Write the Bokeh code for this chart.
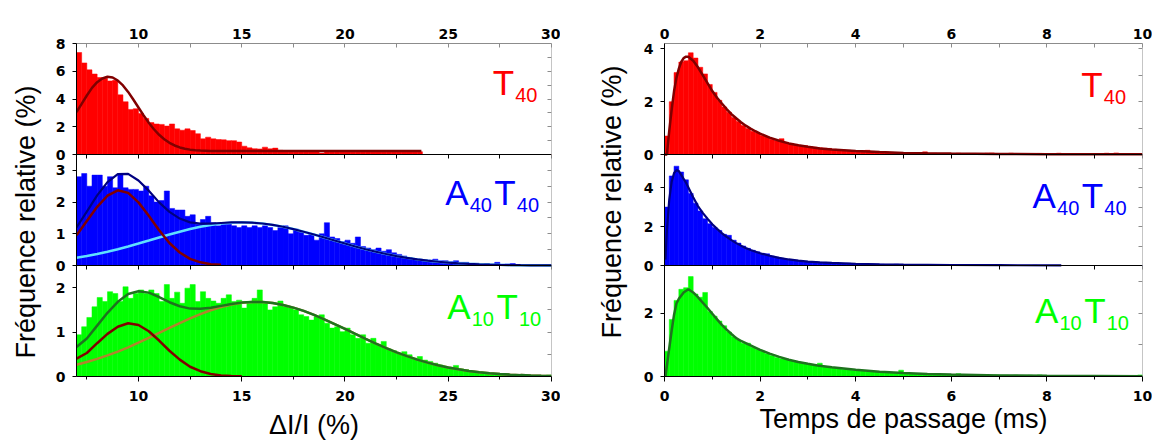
import math
from bokeh.plotting import figure
from bokeh.models import (Range1d, LinearAxis, FixedTicker, CustomJSTickFormatter, Label,
                          Title)
from bokeh.layouts import row
from bokeh.embed import file_html
from bokeh.resources import INLINE

# ======================= DATA =======================
# ---- Left column: ΔI/I (%) histograms, bins of 0.25 % starting at 7 % ----
dii_bin_start = 7.0
dii_bin_width = 0.25
dii_T40 = [
    7.35, 6.6, 6.1, 5.8, 5.55, 5.5, 5.3, 5.35, 4.3, 3.8,
    3.25, 3.3, 2.95, 2.6, 2.3, 2.2, 2.17, 2.05, 2.2, 1.85,
    1.75, 1.85, 1.73, 1.5, 1.13, 1.25, 1.13, 1.08, 1.06, 1.0,
    1.0, 0.9, 0.6, 0.48, 0.42, 0.4, 0.53, 0.41, 0.46, 0.3,
    0.28, 0.25, 0.22, 0.2, 0.2, 0.22, 0.2, 0.1, 0.2, 0.2,
    0.18, 0.2, 0.2, 0.18, 0.2, 0.2, 0.18, 0.2, 0.2, 0.18,
    0.2, 0.2, 0.18, 0.2, 0.2, 0.18, 0.2, 0, 0, 0,
    0, 0, 0, 0, 0, 0, 0, 0, 0, 0,
    0, 0, 0, 0, 0, 0, 0, 0, 0, 0,
    0, 0,
]
dii_A40T40 = [
    2.8, 2.9, 2.5, 2.85, 2.85, 2.5, 2.8, 2.45, 2.9, 2.45,
    2.4, 2.4, 2.35, 2.5, 2.2, 2.0, 2.05, 2.35, 1.8, 1.75,
    1.75, 1.55, 1.6, 1.3, 1.45, 1.55, 1.35, 1.25, 1.3, 1.3,
    1.25, 1.2, 1.25, 1.2, 1.25, 1.2, 1.25, 1.2, 1.1, 1.2,
    1.25, 1.0, 1.15, 1.05, 0.95, 1.0, 0.8, 1.0, 1.35, 0.9,
    0.85, 0.75, 0.8, 0.7, 0.9, 0.6, 0.55, 0.5, 0.55, 0.45,
    0.5, 0.4, 0.35, 0.3, 0.25, 0.22, 0.2, 0.18, 0.17, 0.2,
    0.15, 0.15, 0.12, 0.15, 0.1, 0.1, 0.07, 0.07, 0.05, 0.06,
    0.05, 0.1, 0.04, 0.05, 0.06, 0.03, 0.03, 0.02, 0.03, 0.02,
    0.03, 0.02,
]
dii_A10T10 = [
    0.94, 1.12, 1.33, 1.57, 1.78, 1.69, 1.91, 1.87, 1.69, 2.02,
    1.76, 1.87, 1.95, 1.87, 1.95, 1.87, 1.69, 2.07, 1.76, 1.9,
    1.65, 1.99, 2.07, 1.69, 1.91, 1.76, 1.7, 1.65, 1.76, 1.84,
    1.69, 1.72, 1.54, 1.65, 1.76, 1.95, 1.65, 1.5, 1.57, 1.7,
    1.57, 1.54, 1.5, 1.39, 1.35, 1.27, 1.35, 1.39, 1.2, 1.09,
    1.12, 1.01, 1.09, 0.94, 0.86, 0.94, 0.75, 0.86, 0.71, 0.79,
    0.62, 0.58, 0.52, 0.56, 0.49, 0.41, 0.45, 0.37, 0.34, 0.3,
    0.26, 0.22, 0.2, 0.25, 0.17, 0.15, 0.11, 0.11, 0.07, 0.07,
    0.05, 0.05, 0.04, 0.03, 0.03, 0.02, 0.02, 0.02, 0.02, 0.01,
    0.02, 0.03,
]

# fitted curves (left column)
fitL_T40_x = [7.0, 7.25, 7.5, 7.75, 8.0, 8.25, 8.5, 8.75, 9.0, 9.25, 9.5, 9.75, 10.0,
              10.25, 10.5, 10.75, 11.0, 11.25, 11.5, 11.75, 12.0, 12.25, 12.5, 12.75,
              13.0, 13.5, 14.0, 23.7]
fitL_T40_y = [3.05, 3.65, 4.25, 4.8, 5.21, 5.48, 5.6, 5.55, 5.33, 4.98, 4.51, 3.96, 3.39,
              2.82, 2.29, 1.82, 1.42, 1.1, 0.84, 0.65, 0.51, 0.42, 0.35, 0.31,
              0.28, 0.26, 0.25, 0.25]

half_grid_x = [7.0 + 0.5 * k for k in range(47)]          # 7 ... 30 %
fitL_A40T40_g1_y = [0.95, 1.40, 1.85, 2.20, 2.37, 2.29, 1.99, 1.57, 1.11, 0.71, 0.41,
                    0.21, 0.10, 0.04, 0.02]
fitL_A40T40_g2_y = [0.241, 0.297, 0.362, 0.434, 0.514, 0.600, 0.692, 0.787, 0.883, 0.977,
                    1.066, 1.149, 1.221, 1.280, 1.324, 1.351, 1.36, 1.351, 1.324, 1.280,
                    1.221, 1.149, 1.066, 0.977, 0.883, 0.787, 0.692, 0.600, 0.514, 0.434,
                    0.362, 0.297, 0.241, 0.193, 0.152, 0.119, 0.091, 0.069, 0.052, 0.038,
                    0.028, 0.020, 0.014, 0.010, 0.007, 0.005, 0.003]
fitL_A40T40_tot_y = [1.20, 1.70, 2.21, 2.63, 2.88, 2.89, 2.68, 2.36, 1.99, 1.69, 1.48,
                     1.36, 1.32, 1.32, 1.34, 1.357, 1.36, 1.351, 1.324, 1.280, 1.221,
                     1.149, 1.066, 0.977, 0.883, 0.787, 0.692, 0.600, 0.514, 0.434,
                     0.362, 0.297, 0.241, 0.193, 0.152, 0.119, 0.091, 0.069, 0.052,
                     0.038, 0.028, 0.020, 0.014, 0.010, 0.007, 0.005, 0.003]
fitL_A10T10_g1_y = [0.40, 0.53, 0.75, 0.96, 1.12, 1.20, 1.16, 1.02, 0.81, 0.58, 0.38,
                    0.22, 0.12, 0.057, 0.025, 0.010, 0.004]
fitL_A10T10_g2_y = [0.265, 0.326, 0.396, 0.475, 0.562, 0.658, 0.761, 0.869, 0.980, 1.093,
                    1.203, 1.309, 1.406, 1.493, 1.566, 1.622, 1.660, 1.678, 1.676, 1.654,
                    1.612, 1.552, 1.477, 1.388, 1.288, 1.181, 1.070, 0.958, 0.847, 0.740,
                    0.638, 0.544, 0.458, 0.381, 0.313, 0.254, 0.204, 0.161, 0.126, 0.098,
                    0.075, 0.056, 0.042, 0.031, 0.022, 0.016, 0.011]
fitL_A10T10_tot_y = [0.665, 0.856, 1.146, 1.435, 1.682, 1.858, 1.921, 1.889, 1.79, 1.673,
                     1.583, 1.529, 1.526, 1.55, 1.591, 1.632, 1.664, 1.678, 1.676, 1.654,
                     1.612, 1.552, 1.477, 1.388, 1.288, 1.181, 1.070, 0.958, 0.847, 0.740,
                     0.638, 0.544, 0.458, 0.381, 0.313, 0.254, 0.204, 0.161, 0.126, 0.098,
                     0.075, 0.056, 0.042, 0.031, 0.022, 0.016, 0.011]

# ---- Right column: translocation time (ms) histograms, bins of 0.1 ms from 0 ----
tp_bin_start = 0.0
tp_bin_width = 0.1
tp_T40 = [
    0.7, 2.0, 3.1, 3.5, 3.55, 3.85, 3.65, 3.3, 3.05, 2.65,
    2.35, 2.05, 1.8, 1.6, 1.4, 1.25, 1.1, 0.98, 0.88, 0.82,
    0.72, 0.66, 0.58, 0.52, 0.6, 0.46, 0.42, 0.38, 0.34, 0.33,
    0.3, 0.28, 0.26, 0.24, 0.23, 0.2, 0.19, 0.17, 0.16, 0.14,
    0.13, 0.15, 0.16, 0.12, 0.1, 0.09, 0.09, 0.08, 0.07, 0.07,
    0.06, 0.06, 0.05, 0.07, 0.1, 0.05, 0.05, 0.04, 0.04, 0.04,
    0.04, 0.05, 0.03, 0.04, 0.03, 0.03, 0.04, 0.05, 0.06, 0.03,
    0.0, 0.0, 0.05, 0.0, 0.0, 0.02, 0.0, 0.03, 0.04, 0.0,
    0.0, 0.02, 0.05, 0.0, 0.0, 0.0, 0.02, 0.0, 0.0, 0.03,
    0.0, 0.0, 0.05, 0.0, 0.06, 0.0, 0.0, 0.02, 0.0, 0.0,
]
tp_A40T40 = [
    3.0, 4.6, 5.1, 4.8, 4.4, 3.7, 3.2, 2.8, 2.4, 2.15,
    1.95, 1.8, 1.6, 1.55, 1.3, 1.15, 1.0, 0.88, 0.78, 0.7,
    0.62, 0.6, 0.48, 0.42, 0.37, 0.33, 0.3, 0.27, 0.24, 0.22,
    0.2, 0.19, 0.17, 0.16, 0.14, 0.13, 0.12, 0.11, 0.12, 0.1,
    0.09, 0.09, 0.08, 0.08, 0.07, 0.07, 0.06, 0.06, 0.07, 0.05,
    0.05, 0.05, 0.04, 0.04, 0.04, 0.04, 0.03, 0.03, 0.03, 0.03,
    0.03, 0.03, 0.02, 0.02, 0.02, 0.02, 0.02, 0.02, 0.02, 0.02,
    0.02, 0.01, 0.01, 0.01, 0.01, 0.01, 0.01, 0.02, 0.01, 0.01,
    0.01, 0.01, 0.01, 0.0, 0.0, 0.0, 0.0, 0.0, 0.0, 0.0,
    0.0, 0.0, 0.0, 0.0, 0.0, 0.0, 0.0, 0.0, 0.0, 0.0,
]
tp_A10T10 = [
    0.8, 1.8, 2.4, 2.75, 2.8, 3.15, 2.6, 2.5, 2.65, 2.05,
    1.9, 1.75, 1.6, 1.4, 1.25, 1.15, 1.05, 1.05, 0.92, 0.86,
    0.8, 0.72, 0.66, 0.6, 0.56, 0.55, 0.5, 0.46, 0.43, 0.4,
    0.38, 0.37, 0.42, 0.31, 0.29, 0.27, 0.25, 0.23, 0.21, 0.2,
    0.19, 0.17, 0.16, 0.15, 0.14, 0.13, 0.16, 0.12, 0.11, 0.2,
    0.1, 0.09, 0.09, 0.08, 0.07, 0.08, 0.07, 0.06, 0.07, 0.06,
    0.06, 0.09, 0.05, 0.05, 0.06, 0.05, 0.04, 0.05, 0.04, 0.05,
    0.04, 0.04, 0.03, 0.04, 0.03, 0.03, 0.04, 0.03, 0.05, 0.03,
    0.03, 0.02, 0.03, 0.03, 0.02, 0.02, 0.03, 0.02, 0.02, 0.03,
    0.02, 0.02, 0.02, 0.03, 0.02, 0.02, 0.02, 0.02, 0.03, 0.05,
]
fitR_T40_x = [0.0, 0.05, 0.1, 0.15, 0.2, 0.25, 0.3, 0.35, 0.4, 0.45, 0.5, 0.6, 0.7, 0.8,
              0.9, 1.0, 1.1, 1.2, 1.3, 1.4, 1.5, 1.6, 1.7, 1.8, 1.9, 2.0, 2.2, 2.4, 2.6,
              2.8, 3.0, 3.25, 3.5, 3.75, 4.0, 4.5, 5.0, 5.5, 6.0, 7.0, 8.0, 9.0, 10.0]
fitR_T40_y = [0.0, 0.0, 0.9, 1.7, 2.4, 2.9, 3.25, 3.5, 3.65, 3.7, 3.7, 3.55, 3.3, 3.0,
              2.7, 2.4, 2.15, 1.93, 1.72, 1.53, 1.37, 1.22, 1.09, 0.98, 0.88, 0.79, 0.64,
              0.52, 0.42, 0.35, 0.29, 0.23, 0.19, 0.16, 0.13, 0.09, 0.06, 0.045, 0.035,
              0.02, 0.012, 0.008, 0.005]
fitR_A40T40_x = [0.02, 0.05, 0.1, 0.15, 0.2, 0.25, 0.3, 0.35, 0.4, 0.45, 0.5, 0.6, 0.7,
                 0.8, 0.9, 1.0, 1.1, 1.2, 1.3, 1.4, 1.5, 1.6, 1.7, 1.8, 2.0, 2.2, 2.4,
                 2.6, 2.8, 3.0, 3.25, 3.5, 4.0, 4.5, 5.0, 6.0, 7.0, 8.3]
fitR_A40T40_y = [0.3, 1.8, 3.4, 4.3, 4.75, 4.9, 4.85, 4.65, 4.45, 4.25, 4.0, 3.5, 3.05,
                 2.7, 2.4, 2.12, 1.88, 1.66, 1.47, 1.3, 1.15, 1.02, 0.9, 0.8, 0.63, 0.5,
                 0.39, 0.31, 0.25, 0.2, 0.16, 0.13, 0.09, 0.065, 0.045, 0.025, 0.015, 0.01]
fitR_A10T10_x = [0.02, 0.1, 0.15, 0.2, 0.25, 0.3, 0.4, 0.5, 0.6, 0.7, 0.8, 0.9, 1.0, 1.1,
                 1.2, 1.3, 1.4, 1.5, 1.6, 1.7, 1.8, 2.0, 2.2, 2.4, 2.6, 2.8, 3.0, 3.2, 3.5,
                 4.0, 4.5, 5.0, 5.5, 6.0, 7.0, 8.0, 9.0, 10.0]
fitR_A10T10_y = [0.0, 0.9, 1.45, 1.95, 2.3, 2.45, 2.65, 2.75, 2.65, 2.5, 2.33, 2.16, 1.98,
                 1.8, 1.63, 1.48, 1.34, 1.21, 1.12, 1.05, 0.98, 0.84, 0.72, 0.62, 0.53,
                 0.46, 0.4, 0.35, 0.29, 0.21, 0.15, 0.11, 0.08, 0.06, 0.035, 0.02, 0.014,
                 0.01]

# axis ticks
xL_major = [10, 15, 20, 25, 30]
xL_minor = [7.5, 12.5, 17.5, 22.5, 27.5]
xR_major = [0, 2, 4, 6, 8, 10]
xR_minor = [1, 3, 5, 7, 9]

# ======================= STYLE =======================
TICK_FONT = "DejaVu Sans"
TXT_FONT = "Liberation Sans"
GRAY = "#8c8c8c"
RED, BLUE, GREEN = "#ff0000", "#0000ff", "#00ff00"
MAROON, NAVY, CYAN = "#800000", "#000080", "#5fe0ff"
DKGREEN, OLIVE = "#1f731f", "#b0842e"

FIG_H = 443
TOP_B = 43
BOT_B = 67


def blank():
    return CustomJSTickFormatter(code="return ''")


def lab_style(ax):
    ax.major_label_text_font = TICK_FONT
    ax.major_label_text_font_style = "bold"
    ax.major_label_text_font_size = "14px"
    ax.major_label_text_color = "black"


def make_column(spec):
    panels = spec["panels"]
    # the frame is split into three equal bands (one per sample); master range 0..3
    p = figure(width=spec["width"], height=FIG_H, output_backend="svg",
               toolbar_location=None,
               x_range=Range1d(spec["x0"], spec["x1"]),
               y_range=Range1d(0, 3),
               x_axis_type=None, y_axis_type=None,
               min_border_left=spec["mbl"], min_border_right=spec["mbr"],
               min_border_top=TOP_B, min_border_bottom=BOT_B)
    p.outline_line_color = None
    p.background_fill_color = "white"
    p.border_fill_color = "white"

    p.extra_y_ranges = {pan["name"]: Range1d(-(2 - i) * pan["top"], (1 + i) * pan["top"])
                        for i, pan in enumerate(panels)}

    tick_pos, tick_lab = [], []
    for i, pan in enumerate(panels):
        nm = pan["name"]
        n = len(pan["hist"])
        lefts = [spec["bin_start"] + spec["bin_w"] * k for k in range(n)]
        rights = [v + spec["bin_w"] for v in lefts]
        p.quad(left=lefts, right=rights, bottom=0, top=pan["hist"], y_range_name=nm,
               fill_color=pan["color"], line_color=pan["color"], line_width=0.5)
        for cx, cy, cc, cw in pan["curves"]:
            p.line(cx, cy, y_range_name=nm, line_color=cc, line_width=cw)

        for v in pan["lticks"]:
            tick_pos.append((2 - i) + v / pan["top"])
            tick_lab.append(str(v))

        ra = LinearAxis(y_range_name=nm, fixed_location=spec["x1"], bounds=(0, pan["top"]),
                        ticker=FixedTicker(ticks=pan["rticks"]), formatter=blank(),
                        major_tick_out=0, major_tick_in=4, minor_tick_out=0, minor_tick_in=0,
                        axis_line_color=GRAY, major_tick_line_color=GRAY)
        p.add_layout(ra, "right")

        if i < 2:
            sep = LinearAxis(y_range_name=nm, fixed_location=0,
                             ticker=FixedTicker(ticks=spec["xmaj"], minor_ticks=spec["xmin"]),
                             formatter=blank(), major_tick_out=4, major_tick_in=0,
                             minor_tick_out=4, minor_tick_in=0, axis_line_color="black")
            p.add_layout(sep, "below")

        # panel name, e.g. A40T40 with subscripts
        off = 0
        for txt, is_sub in pan["label"]:
            p.add_layout(Label(x=pan["lab_x"], y=pan["lab_y"], y_range_name=nm,
                               x_offset=off, y_offset=-12.5 if is_sub else 0,
                               text=txt, text_color=pan["color"], text_font=TXT_FONT,
                               text_font_size="20px" if is_sub else "35px",
                               text_align="left", text_baseline="alphabetic"))
            off += (len(txt) * 11.1 + 2.5) if is_sub else (24.5 if txt == "A" else 22.5)

    # one left axis carrying the tick labels of the three stacked panels
    la = LinearAxis(ticker=FixedTicker(ticks=tick_pos),
                    formatter=CustomJSTickFormatter(
                        args=dict(pos=tick_pos, lab=tick_lab),
                        code="for (let k = 0; k < pos.length; k++) {"
                             " if (Math.abs(pos[k] - tick) < 1e-6) return lab[k]; }"
                             " return '';"),
                    major_tick_out=4, major_tick_in=0, minor_tick_out=0, minor_tick_in=0,
                    major_label_standoff=7, axis_line_color="black")
    lab_style(la)
    p.add_layout(la, "left")
    p.add_layout(Title(text="Fréquence relative (%)", align="left", offset=spec["yt_off"],
                       standoff=spec["yt_standoff"], vertical_align="top",
                       text_font=TXT_FONT, text_font_size="27px", text_font_style="normal",
                       text_color="black"), "left")

    top = LinearAxis(ticker=FixedTicker(ticks=spec["xmaj"], minor_ticks=spec["xmin"]),
                     major_tick_in=4, major_tick_out=0, minor_tick_in=4, minor_tick_out=0,
                     major_label_standoff=5, axis_line_color=GRAY,
                     major_tick_line_color=GRAY, minor_tick_line_color=GRAY)
    lab_style(top)
    p.add_layout(top, "above")

    bot = LinearAxis(ticker=FixedTicker(ticks=spec["xmaj"], minor_ticks=spec["xmin"]),
                     major_tick_in=0, major_tick_out=5, minor_tick_in=0, minor_tick_out=3,
                     major_label_standoff=9, axis_line_color="black",
                     axis_label=spec["xtitle"], axis_label_standoff=spec["xt_standoff"],
                     axis_label_text_font=TXT_FONT, axis_label_text_font_size="27px",
                     axis_label_text_font_style="normal", axis_label_text_color="black")
    lab_style(bot)
    p.add_layout(bot, "below")
    return p


left_spec = dict(
    width=560, x0=7, x1=30, mbl=73, mbr=9, bin_start=dii_bin_start, bin_w=dii_bin_width,
    xmaj=xL_major, xmin=xL_minor, yt_off=18, yt_standoff=20,
    xtitle="ΔI/I (%)", xt_standoff=6,
    panels=[
        dict(name="T40", top=8, hist=dii_T40, color=RED,
             curves=[(fitL_T40_x, fitL_T40_y, MAROON, 2.5)],
             lticks=[0, 2, 4, 6, 8], rticks=[1, 2, 3, 4, 5, 6, 7],
             label=[("T", False), ("40", True)], lab_x=27.15, lab_y=5.16),
        dict(name="A40T40", top=3.5, hist=dii_A40T40, color=BLUE,
             curves=[(half_grid_x, fitL_A40T40_g2_y, CYAN, 2.5),
                     (half_grid_x[:15], fitL_A40T40_g1_y, MAROON, 2.5),
                     (half_grid_x, fitL_A40T40_tot_y, NAVY, 2.2)],
             lticks=[0, 1, 2, 3], rticks=[0.5, 1, 1.5, 2, 2.5, 3],
             label=[("A", False), ("40", True), ("T", False), ("40", True)],
             lab_x=24.85, lab_y=2.29),
        dict(name="A10T10", top=2.5, hist=dii_A10T10, color=GREEN,
             curves=[(half_grid_x, fitL_A10T10_g2_y, OLIVE, 2.5),
                     (half_grid_x[:17], fitL_A10T10_g1_y, MAROON, 2.5),
                     (half_grid_x, fitL_A10T10_tot_y, DKGREEN, 2.5)],
             lticks=[0, 1, 2], rticks=[0.5, 1, 1.5, 2],
             label=[("A", False), ("10", True), ("T", False), ("10", True)],
             lab_x=24.95, lab_y=1.58),
    ])

right_spec = dict(
    width=592, x0=0, x1=10, mbl=104, mbr=10, bin_start=tp_bin_start, bin_w=tp_bin_width,
    xmaj=xR_major, xmin=xR_minor, yt_off=38, yt_standoff=23,
    xtitle="Temps de passage (ms)", xt_standoff=0,
    panels=[
        dict(name="T40", top=4.2, hist=tp_T40, color=RED,
             curves=[(fitR_T40_x, fitR_T40_y, MAROON, 2.5)],
             lticks=[0, 2, 4], rticks=[1, 2, 3, 4],
             label=[("T", False), ("40", True)], lab_x=8.72, lab_y=2.66),
        dict(name="A40T40", top=5.7, hist=tp_A40T40, color=BLUE,
             curves=[(fitR_A40T40_x, fitR_A40T40_y, NAVY, 2.2)],
             lticks=[0, 2, 4], rticks=[1, 2, 3, 4, 5],
             label=[("A", False), ("40", True), ("T", False), ("40", True)],
             lab_x=7.7, lab_y=3.6),
        dict(name="A10T10", top=3.5, hist=tp_A10T10, color=GREEN,
             curves=[(fitR_A10T10_x, fitR_A10T10_y, DKGREEN, 2.5)],
             lticks=[0, 2], rticks=[1, 2, 3],
             label=[("A", False), ("10", True), ("T", False), ("10", True)],
             lab_x=7.75, lab_y=2.08),
    ])

pL = make_column(left_spec)
pR = make_column(right_spec)
layout = row(pL, pR)

open("out.html", "w").write(file_html(layout, INLINE))
